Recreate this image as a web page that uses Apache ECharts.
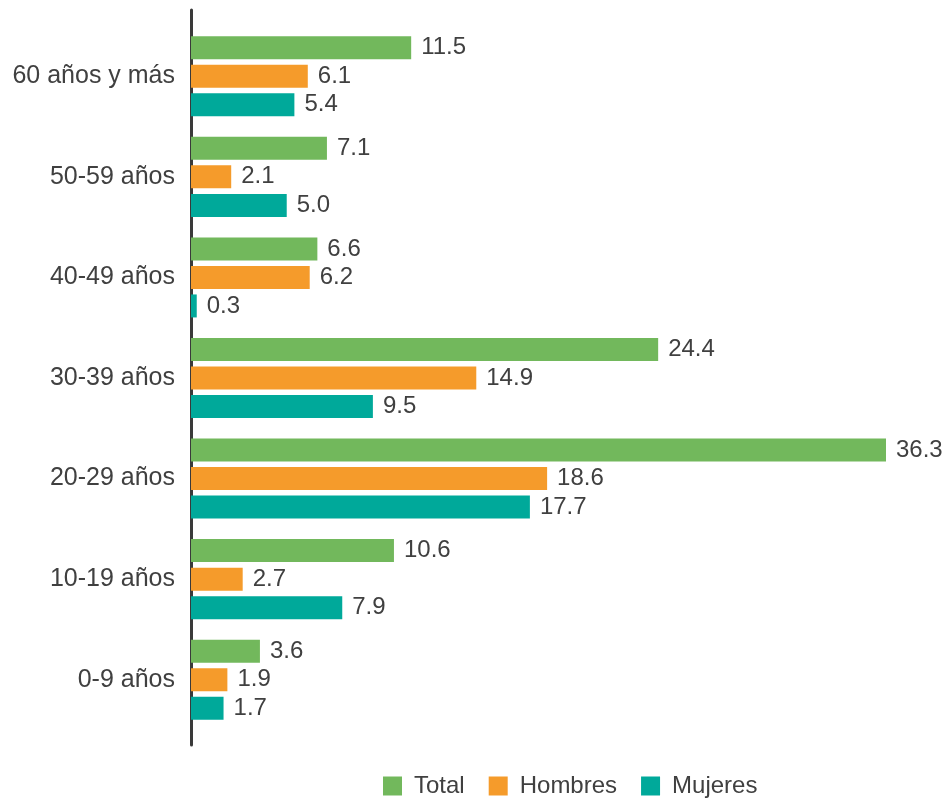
<!DOCTYPE html>
<html><head><meta charset="utf-8">
<script src="https://cdn.jsdelivr.net/npm/echarts@6/dist/echarts.min.js"></script>
<style>html,body{margin:0;padding:0;background:#fff}#c{width:947px;height:798px}</style>
</head><body><div id="c"></div>
<script>
var categories = ['60 años y más','50-59 años','40-49 años','30-39 años','20-29 años','10-19 años','0-9 años'];
var seriesNames = ['Total','Hombres','Mujeres'];
var total   = [11.5, 7.1, 6.6, 24.4, 36.3, 10.6, 3.6];
var hombres = [6.1, 2.1, 6.2, 14.9, 18.6, 2.7, 1.9];
var mujeres = [5.4, 5.0, 0.3, 9.5, 17.7, 7.9, 1.7];
var colors = ['#72b85c', '#f59b2b', '#00a99a'];

var font = 'Liberation Sans, Arial, sans-serif';
var chart = echarts.init(document.getElementById('c'), null, {renderer:'canvas'});
function mk(name, data, color){
  return {
    name: name, type: 'bar', data: data, xAxisIndex: 0, yAxisIndex: 0,
    barWidth: 23, barGap: '24%',
    itemStyle: {color: color},
    label: {show: true, position: 'right', distance: 10, color: '#404040',
      fontSize: 24, fontFamily: font,
      formatter: function(p){ return p.value.toFixed(1); }}
  };
}
chart.setOption({
  animation: false,
  grid: [
    {left: 191, right: 61, top: 26, bottom: 68},
    {left: 191, right: 61, top: 10, bottom: 53}
  ],
  legend: {
    data: seriesNames, top: 774, left: 383, padding: 0,
    itemWidth: 19, itemHeight: 19, itemGap: 24,
    textStyle: {fontSize: 24, color: '#404040', fontFamily: font, padding: [0, 0, 0, 7]},
    icon: 'rect'
  },
  xAxis: [
    {type: 'value', gridIndex: 0, min: 0, max: 36.3, show: false},
    {type: 'value', gridIndex: 1, min: 0, max: 1, show: false}
  ],
  yAxis: [
    {type: 'category', gridIndex: 0, data: categories, inverse: true,
     axisLine: {show: false}, axisTick: {show: false},
     axisLabel: {fontSize: 25, color: '#404040', fontFamily: font, margin: 16}},
    {type: 'category', gridIndex: 1, data: [''],
     axisLine: {show: true, lineStyle: {color: '#3a3a3a', width: 3}},
     axisTick: {show: false}, axisLabel: {show: false}}
  ],
  series: [mk('Total', total, colors[0]), mk('Hombres', hombres, colors[1]), mk('Mujeres', mujeres, colors[2])]
});
</script></body></html>
